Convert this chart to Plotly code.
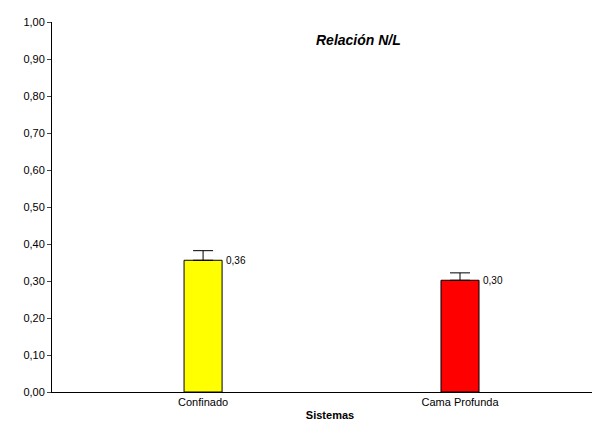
import plotly.graph_objects as go

categories = ["Confinado", "Cama Profunda"]
values = [0.356, 0.302]
errors = [0.026, 0.020]
labels = ["0,36", "0,30"]
colors = ["#FFFF00", "#FF0000"]

xs = list(range(len(categories)))
fig = go.Figure(go.Bar(
    x=xs, y=values, width=0.148, marker=dict(color=colors, line=dict(color="black", width=1)),
    error_y=dict(type="data", array=errors, arrayminus=[0]*len(errors), symmetric=False,
                 color="black", thickness=1, width=10),
))
for x, v, t in zip(xs, values, labels):
    fig.add_annotation(x=x + 0.08, y=v, text=t, showarrow=False, xanchor="left", yanchor="middle",
                       font=dict(size=10, color="black"))
fig.update_layout(
    width=600, height=424, margin=dict(l=44, r=0, t=14, b=40, autoexpand=False),
    paper_bgcolor="white", plot_bgcolor="white", separators=",.",
    font=dict(family="Liberation Sans, Arial", size=11, color="black"),
    showlegend=False,
)
fig.add_annotation(text="<b><i>Relación N/L</i></b>", xref="paper", yref="paper",
                   x=(350-44)/556, y=1-(22-14)/370, showarrow=False, font=dict(size=14))
fig.update_xaxes(range=[-0.588, 1.576], tickvals=xs, ticktext=categories, showline=True,
                 linecolor="black", ticks="", showgrid=False, zeroline=False, automargin=False,
                 title=dict(text="<b>Sistemas</b>", standoff=4, font=dict(size=11)))
fig.update_yaxes(range=[0, 1.0], dtick=0.1, tickformat=".2f", showline=True, linecolor="black",
                 ticks="outside", ticklen=4, showgrid=False, zeroline=False, fixedrange=True,
                 automargin=False)
fig.write_html("out.html")
